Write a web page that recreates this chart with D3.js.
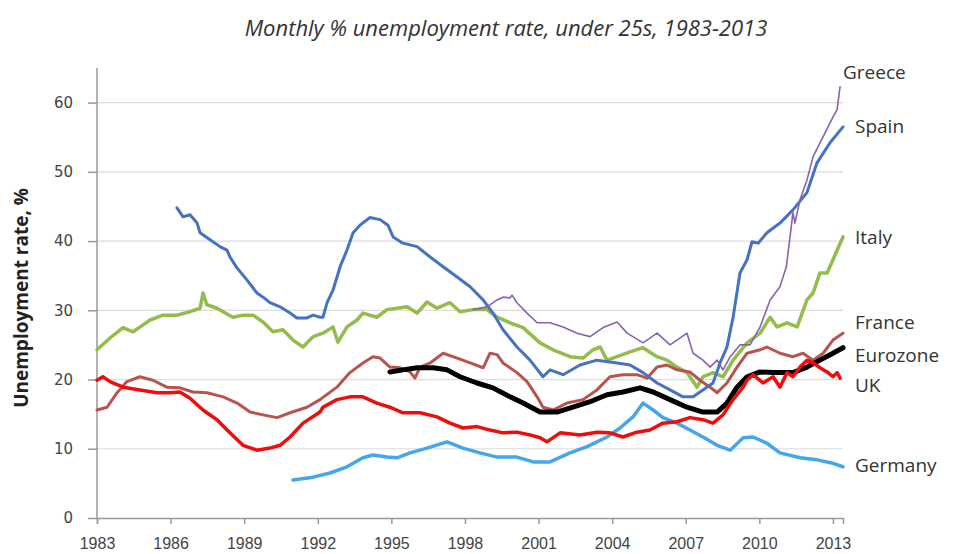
<!DOCTYPE html>
<html>
<head>
<meta charset="utf-8">
<script src="https://cdn.jsdelivr.net/npm/d3@7"></script>
<style>
    body { margin: 0; background: white; }
</style>
</head>
<body>
<svg width="953" height="554"></svg>
<script>
// [decimal year, % rate]
var spain = [
    [1986.26, 44.8], [1986.51, 43.5], [1986.79, 43.8], [1987.08, 42.6], [1987.20, 41.2], [1987.61, 40.2],
    [1988.01, 39.2], [1988.30, 38.7], [1988.42, 37.7], [1988.71, 36.1], [1989.11, 34.4], [1989.52, 32.5],
    [1989.77, 31.9], [1990.05, 31.1], [1990.46, 30.5], [1990.87, 29.6], [1991.15, 28.9], [1991.56, 28.9],
    [1991.81, 29.3], [1992.09, 29.0], [1992.21, 29.0], [1992.38, 31.1], [1992.62, 32.9], [1992.91, 36.3],
    [1993.19, 38.7], [1993.44, 41.2], [1993.72, 42.3], [1994.13, 43.4], [1994.54, 43.1], [1994.86, 42.3],
    [1995.07, 40.6], [1995.47, 39.7], [1996.05, 39.2], [1996.58, 37.7], [1997.11, 36.3], [1997.68, 34.8],
    [1998.21, 33.4], [1998.74, 31.5], [1999.14, 29.6], [1999.55, 27.2], [2000.12, 24.7], [2000.65, 22.8],
    [2001.18, 20.4], [2001.47, 21.4], [2002.00, 20.7], [2002.69, 22.1], [2003.38, 22.8], [2004.20, 22.4],
    [2004.73, 22.1], [2005.26, 21.0], [2005.83, 19.5], [2006.36, 18.5], [2006.89, 17.5], [2007.30, 17.5],
    [2007.70, 18.5], [2008.11, 19.5], [2008.40, 22.4], [2008.68, 24.7], [2008.93, 29.0], [2009.21, 35.4],
    [2009.50, 37.3], [2009.70, 39.9], [2009.95, 39.7], [2010.31, 41.2], [2010.84, 42.6], [2011.37, 44.5],
    [2011.94, 47.0], [2012.35, 51.3], [2012.88, 54.2], [2013.41, 56.5]
];

var greece = [
    [1998.33, 30.1], [1998.90, 30.5], [1999.31, 31.5], [1999.55, 31.9], [1999.84, 31.8], [1999.92, 32.2],
    [2000.12, 31.1], [2000.53, 29.6], [2000.94, 28.2], [2001.47, 28.2], [2002.00, 27.6], [2002.57, 26.7],
    [2003.10, 26.2], [2003.63, 27.5], [2004.20, 28.3], [2004.61, 26.7], [2005.26, 25.3], [2005.83, 26.7],
    [2006.36, 25.0], [2007.05, 26.7], [2007.30, 23.8], [2007.70, 22.8], [2007.99, 21.8], [2008.28, 22.8],
    [2008.52, 21.4], [2008.81, 23.3], [2009.21, 25.0], [2009.62, 25.0], [2010.03, 27.6], [2010.44, 31.5],
    [2010.84, 33.4], [2011.10, 36.3], [2011.25, 40.6], [2011.37, 44.1], [2011.45, 42.6], [2011.66, 46.0],
    [2011.94, 48.8], [2012.19, 52.2], [2012.60, 55.1], [2013.00, 57.9], [2013.17, 59.0], [2013.29, 62.3]
];

var italy = [
    [1983.00, 24.3], [1983.53, 26.0], [1984.06, 27.5], [1984.47, 26.9], [1984.88, 27.9], [1985.16, 28.6],
    [1985.69, 29.3], [1986.26, 29.3], [1986.79, 29.8], [1987.20, 30.3], [1987.32, 32.5], [1987.48, 30.8],
    [1987.89, 30.3], [1988.14, 29.8], [1988.54, 29.0], [1988.95, 29.3], [1989.36, 29.3], [1989.77, 28.3],
    [1990.17, 26.9], [1990.58, 27.2], [1990.99, 25.7], [1991.40, 24.7], [1991.81, 26.2], [1992.21, 26.7],
    [1992.62, 27.6], [1992.82, 25.4], [1993.19, 27.6], [1993.60, 28.6], [1993.84, 29.6], [1994.41, 29.0],
    [1994.82, 30.1], [1995.64, 30.5], [1996.05, 29.6], [1996.45, 31.2], [1996.86, 30.3], [1997.39, 31.1],
    [1997.80, 29.8], [1998.33, 30.1], [1998.90, 30.1], [1999.31, 29.0], [1999.84, 28.2], [2000.37, 27.5],
    [2001.06, 25.3], [2001.59, 24.3], [2002.28, 23.3], [2002.81, 23.1], [2003.22, 24.3], [2003.51, 24.7],
    [2003.79, 22.8], [2004.20, 23.3], [2004.73, 24.0], [2005.26, 24.6], [2005.83, 23.3], [2006.24, 22.8],
    [2006.64, 21.8], [2007.05, 21.0], [2007.46, 18.9], [2007.70, 20.4], [2008.11, 21.0], [2008.52, 20.4],
    [2008.93, 22.8], [2009.50, 25.3], [2010.03, 26.7], [2010.44, 29.0], [2010.72, 27.6], [2011.13, 28.2],
    [2011.54, 27.6], [2011.94, 31.5], [2012.19, 32.5], [2012.47, 35.4], [2012.76, 35.4], [2013.00, 37.3],
    [2013.41, 40.6]
];

var france = [
    [1983.00, 15.6], [1983.41, 16.0], [1983.82, 18.1], [1984.22, 19.7], [1984.75, 20.4], [1985.28, 19.9],
    [1985.85, 18.9], [1986.38, 18.8], [1986.91, 18.2], [1987.48, 18.1], [1988.14, 17.5], [1988.71, 16.6],
    [1989.24, 15.3], [1989.77, 14.9], [1990.34, 14.5], [1990.87, 15.2], [1991.56, 16.0], [1992.09, 17.1],
    [1992.78, 18.9], [1993.31, 21.0], [1993.84, 22.4], [1994.25, 23.3], [1994.54, 23.1], [1994.94, 21.8],
    [1995.35, 21.7], [1995.76, 21.1], [1995.96, 20.2], [1996.17, 21.8], [1996.58, 22.4], [1997.11, 23.8],
    [1997.68, 23.1], [1998.21, 22.4], [1998.74, 21.7], [1999.02, 23.8], [1999.31, 23.6], [1999.55, 22.4],
    [2000.12, 21.0], [2000.53, 19.7], [2000.94, 17.5], [2001.18, 16.0], [2001.59, 15.6], [2002.16, 16.6],
    [2002.81, 17.1], [2003.38, 18.5], [2003.91, 20.4], [2004.44, 20.7], [2005.01, 20.7], [2005.42, 20.2],
    [2005.83, 21.8], [2006.24, 22.1], [2006.64, 21.4], [2007.17, 21.1], [2007.58, 19.9], [2007.99, 18.9],
    [2008.28, 18.1], [2008.68, 19.5], [2009.09, 21.8], [2009.50, 23.8], [2010.03, 24.3], [2010.31, 24.7],
    [2010.84, 23.8], [2011.37, 23.3], [2011.78, 23.8], [2012.19, 22.8], [2012.60, 23.8], [2013.00, 25.7],
    [2013.41, 26.7]
];

var eurozone = [
    [1994.94, 21.1], [1995.47, 21.4], [1996.05, 21.7], [1996.70, 21.7], [1997.27, 21.4], [1997.80, 20.4],
    [1998.49, 19.5], [1999.14, 18.8], [1999.84, 17.5], [2000.37, 16.6], [2001.06, 15.3], [2001.75, 15.3],
    [2002.40, 16.0], [2003.10, 16.8], [2003.79, 17.8], [2004.44, 18.2], [2005.14, 18.8], [2005.67, 18.2],
    [2006.36, 17.1], [2007.05, 16.0], [2007.70, 15.3], [2008.28, 15.3], [2008.68, 16.6], [2009.09, 18.9],
    [2009.50, 20.4], [2010.03, 21.1], [2010.56, 21.0], [2011.37, 21.0], [2011.94, 21.8], [2012.47, 22.8],
    [2013.00, 23.8], [2013.41, 24.6]
];

var uk = [
    [1983.00, 19.9], [1983.24, 20.4], [1983.53, 19.7], [1984.06, 18.9], [1984.75, 18.5], [1985.45, 18.1],
    [1985.98, 18.1], [1986.38, 18.2], [1986.79, 17.3], [1987.32, 15.6], [1987.89, 14.2], [1988.42, 12.3],
    [1988.95, 10.5], [1989.52, 9.8], [1990.05, 10.1], [1990.46, 10.5], [1990.87, 11.7], [1991.40, 13.7],
    [1992.09, 15.3], [1992.21, 16.0], [1992.78, 17.1], [1993.31, 17.5], [1993.84, 17.5], [1994.41, 16.6],
    [1994.94, 16.0], [1995.47, 15.2], [1996.17, 15.2], [1996.86, 14.6], [1997.39, 13.7], [1997.92, 13.0],
    [1998.49, 13.2], [1999.02, 12.7], [1999.55, 12.3], [2000.12, 12.4], [2000.65, 12.0], [2001.06, 11.6],
    [2001.34, 11.0], [2001.88, 12.3], [2002.69, 12.0], [2003.38, 12.4], [2003.91, 12.3], [2004.44, 11.7],
    [2005.01, 12.4], [2005.54, 12.7], [2006.07, 13.7], [2006.64, 13.9], [2007.17, 14.5], [2007.70, 14.2],
    [2008.11, 13.7], [2008.52, 14.9], [2008.93, 17.1], [2009.34, 18.9], [2009.50, 19.9], [2009.74, 20.7],
    [2010.15, 19.5], [2010.56, 20.4], [2010.84, 18.9], [2011.13, 21.0], [2011.37, 20.4], [2011.66, 21.8],
    [2011.94, 22.8], [2012.19, 22.4], [2012.47, 21.7], [2012.76, 21.1], [2013.00, 20.4], [2013.17, 21.0],
    [2013.29, 20.2]
];

var germany = [
    [1990.99, 5.5], [1991.81, 5.9], [1992.50, 6.5], [1993.19, 7.4], [1993.84, 8.7], [1994.25, 9.1],
    [1994.82, 8.8], [1995.23, 8.7], [1995.76, 9.4], [1996.45, 10.1], [1997.27, 11.0], [1997.92, 10.1],
    [1998.61, 9.4], [1999.31, 8.8], [2000.12, 8.8], [2000.78, 8.1], [2001.47, 8.1], [2002.28, 9.4],
    [2002.98, 10.3], [2003.79, 11.7], [2004.32, 13.0], [2004.85, 14.6], [2005.26, 16.6], [2005.67, 15.6],
    [2006.07, 14.5], [2006.64, 13.7], [2007.17, 12.7], [2007.70, 11.7], [2008.28, 10.5], [2008.81, 9.8],
    [2009.34, 11.6], [2009.74, 11.7], [2010.31, 10.8], [2010.84, 9.4], [2011.66, 8.7], [2012.35, 8.4],
    [2013.00, 7.9], [2013.41, 7.4]
];

var yTicks = [0, 10, 20, 30, 40, 50, 60];
var xTicks = [1983, 1986, 1989, 1992, 1995, 1998, 2001, 2004, 2007, 2010, 2013];

// drawing order, bottom first
var series = [
    { name: "Italy", data: italy, color: "#93bd4a", width: 3.5, labelY: 40.6 },
    { name: "France", data: france, color: "#b85450", width: 3, labelY: 28.2 },
    { name: "Spain", data: spain, color: "#4672c2", width: 3, labelY: 56.5 },
    { name: "Germany", data: germany, color: "#45a7ea", width: 3.5, labelY: 7.6 },
    { name: "Greece", data: greece, color: "#8a62ac", width: 1.6, labelY: 64.3 },
    { name: "Eurozone", data: eurozone, color: "#000000", width: 5, labelY: 23.5 },
    { name: "UK", data: uk, color: "#ee0d0d", width: 3.5, labelY: 19.2 }
];

var xScale = d3.scaleLinear().domain([1983, 2013.41]).range([97, 843]);
var yScale = d3.scaleLinear().domain([0, 65]).range([518, 68]);

var svg = d3.select("svg");

// Title
svg.append("text")
    .attr("x", 506)
    .attr("y", 36)
    .attr("text-anchor", "middle")
    .style("font-family", "Open Sans, sans-serif")
    .style("font-style", "italic")
    .style("font-size", "22px")
    .style("fill", "#333")
    .text("Monthly % unemployment rate, under 25s, 1983-2013");

// Gridlines
svg.append("g")
    .selectAll("line")
    .data(yTicks.slice(1))
    .join("line")
    .attr("x1", xScale(1983))
    .attr("x2", xScale(2013.41))
    .attr("y1", d => yScale(d))
    .attr("y2", d => yScale(d))
    .style("stroke", "#dcdcdc")
    .style("stroke-width", 1.2);

// Y axis
var yAxis = d3.axisLeft(yScale).tickValues(yTicks).tickSize(9).tickPadding(15);
var yAxisG = svg.append("g")
    .attr("transform", `translate(${xScale(1983)},0)`)
    .call(yAxis);
yAxisG.select(".domain").attr("d", `M0,${yScale(65)}V${yScale(0)}`);

// X axis
var xAxis = d3.axisBottom(xScale).tickValues(xTicks).tickFormat(d3.format("d")).tickSize(6).tickPadding(14);
var xAxisG = svg.append("g")
    .attr("transform", `translate(0,${yScale(0)})`)
    .call(xAxis);

[yAxisG, xAxisG].forEach(g => {
    g.select(".domain").style("stroke", "#999").style("stroke-width", 1.5);
    g.selectAll(".tick line").style("stroke", "#999").style("stroke-width", 1.5);
    g.selectAll(".tick text")
        .style("fill", "#444")
        .style("font-family", "DejaVu Sans, sans-serif")
        .style("font-size", "15px");
});
xAxisG.selectAll(".tick text")
    .style("font-family", "Liberation Sans, sans-serif")
    .style("font-size", "16px");

// Y axis title
svg.append("text")
    .attr("transform", "translate(28,298) rotate(-90)")
    .attr("text-anchor", "middle")
    .style("font-family", "Open Sans, sans-serif")
    .style("font-weight", "bold")
    .style("font-size", "19px")
    .style("fill", "#222")
    .text("Unemployment rate, %");

// Lines
var line = d3.line()
    .x(d => xScale(d[0]))
    .y(d => yScale(d[1]));

svg.append("g")
    .selectAll("path")
    .data(series)
    .join("path")
    .attr("d", d => line(d.data))
    .attr("fill", "none")
    .style("stroke", d => d.color)
    .style("stroke-width", d => d.width)
    .style("stroke-linejoin", "round")
    .style("stroke-linecap", "round");

// Series labels at right end
svg.append("g")
    .selectAll("text")
    .data(series)
    .join("text")
    .attr("x", d => d.name == "Greece" ? 843 : 855)
    .attr("y", d => yScale(d.labelY))
    .attr("dy", "0.35em")
    .style("font-family", "Open Sans, sans-serif")
    .style("font-size", "19px")
    .style("fill", "#333")
    .text(d => d.name);
</script>
</body>
</html>
